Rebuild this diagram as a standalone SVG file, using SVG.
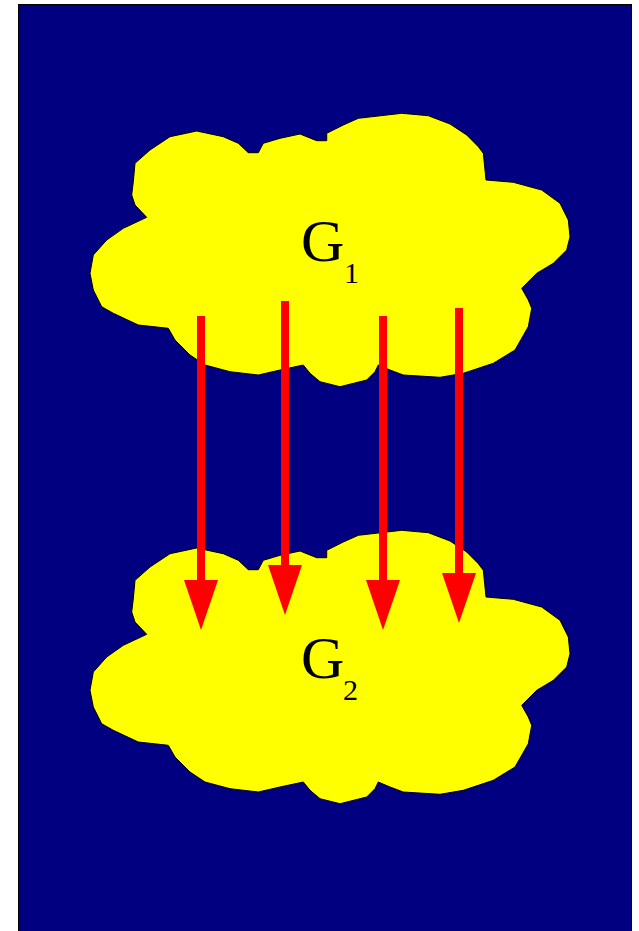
<svg xmlns="http://www.w3.org/2000/svg" width="639" height="931" viewBox="0 0 639 931">
<style>
.cloud{fill:#ffff00;stroke:#000;stroke-width:1;stroke-linejoin:round}
.lbl{font-family:"Liberation Serif","Times New Roman",serif;fill:#000}
.arr{stroke:#ff0000;stroke-width:8;fill:none}
</style>
<defs>
<path id="cloudShape" d="M401.7,113.3 L428.3,115.7 L450,124 L466.7,135 L478.3,146.7 L483.3,153.3 L486,180 L513.3,182.3 L541.7,190 L560,203.3 L568.3,220 L570,236.7 L566.7,250 L553.3,263.3 L536.7,273.3 L521.7,288.3 L528.3,300 L531.7,308.3 L528.3,326.7 L515,350 L493.3,363.3 L463.3,373.3 L440,377.3 L403.3,375 L390,370 L378.3,365 L375,371.7 L366.7,380 L340,386.7 L320,381.7 L310,373.3 L303.3,365 L280,370 L258.3,375 L230,371.7 L205,365 L190,355 L175,340 L168.3,328.3 L138.3,325 L113.3,313.3 L101.7,306.7 L93.3,290 L90,273.3 L93.3,255 L106.7,240 L123.3,228.3 L146.7,217.3 L135,205 L131.7,195 L133.3,181.7 L135,163.3 L150,150 L170,136.7 L196.7,131 L223.3,136.7 L238.3,143.3 L248.3,152.7 L258.3,152.7 L263.3,143.3 L280,138.3 L300,134 L316.7,140.7 L326.7,140.7 L326.7,133.3 L343.3,125 L358.3,118.3 Z"/>
<marker id="head" markerUnits="userSpaceOnUse" markerWidth="50" markerHeight="34" refX="10" refY="17" orient="auto" viewBox="0 0 50 34">
<path d="M0,0 L50,17 L0,34 Z" fill="#ff0000"/>
</marker>
</defs>
<rect x="0" y="0" width="639" height="931" fill="#fff"/>
<rect id="background" x="18.5" y="4.5" width="613" height="930" fill="#000080" stroke="#000" stroke-width="1"/>
<g id="G1">
<use href="#cloudShape" class="cloud"/>
<text class="lbl" x="301" y="261" font-size="60">G</text>
<text class="lbl" x="344" y="283" font-size="30">1</text>
</g>
<g id="G2" transform="translate(0,417)">
<use href="#cloudShape" class="cloud"/>
<text class="lbl" x="301" y="261" font-size="60">G</text>
<text class="lbl" x="343" y="283" font-size="30">2</text>
</g>
<g id="connectors">
<line class="arr" x1="201" y1="316" x2="201" y2="590" marker-end="url(#head)"/>
<line class="arr" x1="285" y1="301" x2="285" y2="575" marker-end="url(#head)"/>
<line class="arr" x1="383" y1="316" x2="383" y2="590" marker-end="url(#head)"/>
<line class="arr" x1="459" y1="308" x2="459" y2="583" marker-end="url(#head)"/>
</g>
</svg>
